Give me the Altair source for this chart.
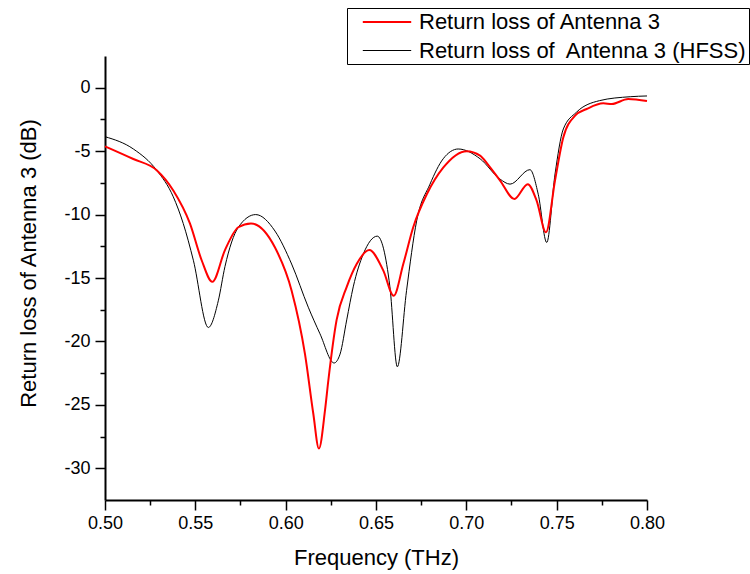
import altair as alt
import pandas as pd

FONT = "Liberation Sans"

# Measured return loss (red trace)
freq_meas = [0.5, 0.5157, 0.5286, 0.5378, 0.5470, 0.5535, 0.5594, 0.5664, 0.5738,
             0.5808, 0.5941, 0.6033, 0.6107, 0.6153, 0.6184, 0.6218, 0.6236, 0.6282,
             0.6338, 0.6393, 0.6463, 0.6540, 0.6598, 0.6651, 0.6706, 0.6781, 0.6872,
             0.7002, 0.7076, 0.7122, 0.7186, 0.7266, 0.7340, 0.7389, 0.7441, 0.7491,
             0.7537, 0.7602, 0.7666, 0.7758, 0.7805, 0.7896, 0.8]
rl_meas = [-4.62, -5.62, -6.5, -8.1, -10.7, -13.6, -15.3, -12.8, -11.0,
           -10.7, -12.6, -16.0, -21.0, -25.7, -28.45, -25.4, -23.1, -18.3,
           -15.7, -13.9, -12.8, -14.4, -16.4, -13.9, -11.0, -8.4, -6.3,
           -5.0, -5.35, -6.1, -7.3, -8.77, -7.6, -8.9, -11.4, -7.3,
           -3.9, -2.2, -1.68, -1.23, -1.28, -0.89, -1.05]

# HFSS simulation (black trace)
freq_hfss = [0.5, 0.5157, 0.5286, 0.5378, 0.5433, 0.5489, 0.5572, 0.5627, 0.5664,
             0.5738, 0.5834, 0.5941, 0.6033, 0.6125, 0.6190, 0.6268, 0.6301, 0.6338,
             0.6374, 0.6430, 0.6507, 0.6577, 0.6618, 0.6669, 0.6725, 0.6799, 0.6872,
             0.6955, 0.7076, 0.7186, 0.7242, 0.7352, 0.7398, 0.7445, 0.7491, 0.7537,
             0.7609, 0.7737, 0.7907, 0.8]
rl_hfss = [-3.86, -4.83, -6.5, -8.6, -10.7, -13.6, -18.9, -16.8, -14.1,
           -11.0, -10.0, -11.3, -13.9, -17.3, -19.4, -21.7, -21.0, -18.3,
           -15.7, -13.1, -11.7, -15.7, -22.0, -16.0, -10.5, -7.6, -5.6,
           -4.83, -5.6, -7.2, -7.6, -6.46, -8.4, -12.2, -6.8, -3.25,
           -1.94, -1.02, -0.71, -0.65]

LABEL_MEAS = "Return loss of Antenna 3"
LABEL_HFSS = "Return loss of\u00a0 Antenna 3 (HFSS)"

x_major = [0.5, 0.55, 0.6, 0.65, 0.7, 0.75, 0.8]
x_minor = [0.525, 0.575, 0.625, 0.675, 0.725, 0.775]
y_major = [-30, -25, -20, -15, -10, -5, 0]
y_minor = [-27.5, -22.5, -17.5, -12.5, -7.5, -2.5]

meas = pd.DataFrame({"freq": freq_meas, "rl": rl_meas, "series": LABEL_MEAS})
hfss = pd.DataFrame({"freq": freq_hfss, "rl": rl_hfss, "series": LABEL_HFSS})

x_scale = alt.Scale(domain=[0.5, 0.8], nice=False, zero=False)
y_scale = alt.Scale(domain=[-32.5, 2.5], nice=False, zero=False)

# Legend swatch: a horizontal stroke wider than the nominal symbol box,
# so rows stay as tall as the label text.
color = alt.Color(
    "series:N",
    scale=alt.Scale(domain=[LABEL_MEAS, LABEL_HFSS], range=["#ff0000", "#000000"]),
    legend=alt.Legend(
        title=None, orient="none", legendX=242, legendY=-48,
        symbolType="M-2.2,0H2.2", symbolSize=484,
        labelFont=FONT, labelFontSize=22, labelColor="black", labelLimit=600,
        labelOffset=20, rowPadding=6, padding=2, symbolOffset=26,
        strokeColor="black", fillColor="white",
    ),
)
width = alt.StrokeWidth(
    "series:N",
    scale=alt.Scale(domain=[LABEL_MEAS, LABEL_HFSS], range=[2, 1]),
    legend=None,
)

tick_style = dict(tickColor="black", tickWidth=1.5, grid=False)

x_axis_major = alt.Axis(
    values=x_major, format=".2f", orient="bottom", tickSize=10,
    domainColor="black", domainWidth=2, labelFont=FONT, labelFontSize=18,
    labelColor="black", labelPadding=4, labelFlush=False,
    titleFont=FONT, titleFontSize=22, titleFontWeight="normal", titleColor="black",
    titleY=57, titleBaseline="middle", **tick_style,
)
y_axis_major = alt.Axis(
    values=y_major, orient="left", tickSize=10, labelExpr="'' + datum.value",
    domainColor="black", domainWidth=2, labelFont=FONT, labelFontSize=18,
    labelColor="black", labelPadding=5, labelFlush=False,
    titleFont=FONT, titleFontSize=22, titleFontWeight="normal", titleColor="black",
    titleX=-77, titleY=207, titleBaseline="middle", titleAlign="center",
    **tick_style,
)
x_axis_minor = alt.Axis(values=x_minor, orient="bottom", tickSize=5, labels=False,
                        domain=False, **tick_style)
y_axis_minor = alt.Axis(values=y_minor, orient="left", tickSize=5, labels=False,
                        domain=False, **tick_style)

meas_line = alt.Chart(meas).mark_line(interpolate="monotone").encode(
    x=alt.X("freq:Q", scale=x_scale, axis=x_axis_major, title="Frequency (THz)"),
    y=alt.Y("rl:Q", scale=y_scale, axis=y_axis_major, title="Return loss of Antenna 3 (dB)"),
    color=color,
    strokeWidth=width,
)
hfss_line = alt.Chart(hfss).mark_line(interpolate="monotone").encode(
    x=alt.X("freq:Q", scale=x_scale, axis=x_axis_minor, title=None),
    y=alt.Y("rl:Q", scale=y_scale, axis=y_axis_minor, title=None),
    color=color,
    strokeWidth=width,
)

chart = (
    alt.layer(hfss_line, meas_line)
    .resolve_scale(x="shared", y="shared", color="shared", strokeWidth="shared")
    .resolve_axis(x="independent", y="independent")
    .properties(
        width=542, height=444, autosize="none", background="white",
        padding={"left": 105, "top": 56, "right": 103, "bottom": 74},
    )
    .configure_view(stroke=None)
)

chart.save("out.html", embed_options={"renderer": "svg", "actions": False})
